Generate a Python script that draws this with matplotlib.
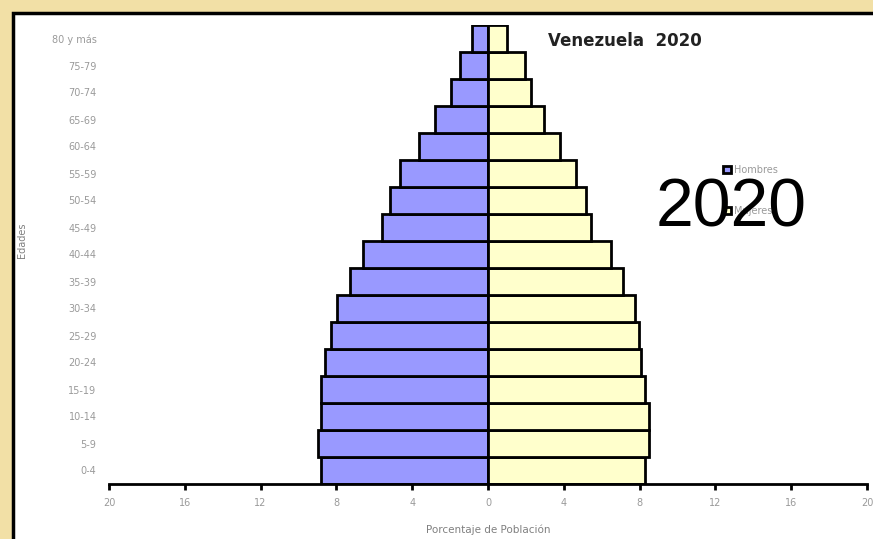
import numpy as np
import matplotlib.pyplot as plt
from matplotlib.patches import Rectangle

# grupos de edad, de abajo hacia arriba
edades = ['0-4', '5-9', '10-14', '15-19', '20-24', '25-29', '30-34', '35-39',
          '40-44', '45-49', '50-54', '55-59', '60-64', '65-69', '70-74',
          '75-79', '80 y más']

# porcentaje de población
hombres = [8.8, 8.97, 8.8, 8.8, 8.59, 8.27, 7.97, 7.28, 6.61, 5.62, 5.15,
           4.62, 3.65, 2.79, 1.95, 1.48, 0.82]
mujeres = [8.26, 8.48, 8.48, 8.26, 8.08, 7.96, 7.78, 7.15, 6.48, 5.46, 5.15,
           4.64, 3.8, 2.98, 2.29, 1.97, 1.01]

ticks_x = [-20, -16, -12, -8, -4, 0, 4, 8, 12, 16, 20]

gris = '#9a9a9a'

fig = plt.figure(figsize=(8.73, 5.39), dpi=100)
fig.patch.set_facecolor('#F2E0A6')

# marco blanco con borde negro
fig.patches.append(Rectangle((13 / 873, -0.05), 1.2, 1.05 - 13 / 539,
                             transform=fig.transFigure, facecolor='white',
                             edgecolor='black', linewidth=2.5, zorder=-10))

ax = fig.add_axes([109 / 873, 55 / 539, 758 / 873, 459 / 539])
ax.set_facecolor('none')

y = np.arange(len(edades))
b_h = ax.barh(y, -np.array(hombres), height=1.0, color='#9999FF',
              edgecolor='black', linewidth=2, label='Hombres')
b_m = ax.barh(y, mujeres, height=1.0, color='#FFFFCC',
              edgecolor='black', linewidth=2, label='Mujeres')

ax.set_xlim(-20, 20)
ax.set_ylim(-0.5, 16.5)
ax.set_xticks(ticks_x)
ax.set_xticklabels([str(abs(t)) for t in ticks_x])
ax.set_yticks(y)
ax.set_yticklabels(edades)

for s in ['top', 'right', 'left']:
    ax.spines[s].set_visible(False)
ax.spines['bottom'].set_linewidth(2)
ax.spines['bottom'].set_zorder(5)

ax.tick_params(axis='x', direction='out', length=4, width=2, pad=6,
               labelsize=7, labelcolor=gris)
ax.tick_params(axis='y', length=0, pad=9, labelsize=7, labelcolor=gris)

ax.set_xlabel('Porcentaje de Población', fontsize=7.5, color='#808080',
              labelpad=12)
fig.text(22 / 873, 1 - 240 / 539, 'Edades', rotation=90, fontsize=7,
         color='#808080', ha='center', va='center')

fig.text(548 / 873, 1 - 41 / 539, 'Venezuela  2020', fontsize=12,
         fontweight='bold', color='#222222', ha='left', va='center')

ax.legend(handles=[b_h, b_m], loc='upper left',
          bbox_to_anchor=(718 / 873, 1 - 160 / 539),
          bbox_transform=fig.transFigure, frameon=False, fontsize=7,
          labelcolor=gris, handlelength=0.8, handleheight=0.8,
          handletextpad=0.3, labelspacing=3.2, borderpad=0)

fig.text(731 / 873, 1 - 208 / 539, '2020', fontsize=49,
         family='Liberation Sans', color='black', ha='center', va='center')

fig.savefig('out.png', dpi=100, facecolor=fig.get_facecolor())
